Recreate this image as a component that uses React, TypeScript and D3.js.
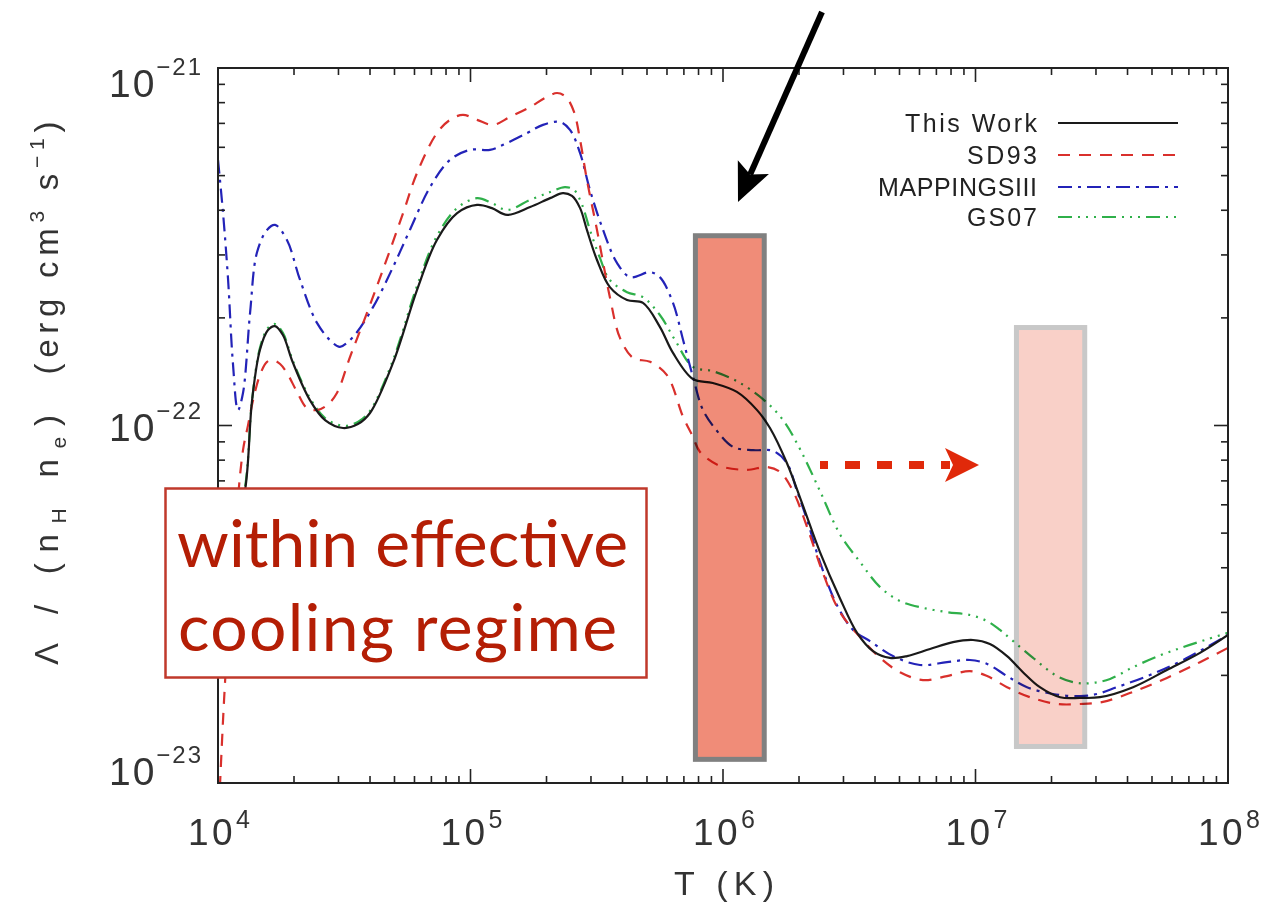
import React from 'react';
import * as d3 from 'd3';

// ---------------- data ----------------
const xDecades = [4, 5, 6, 7, 8];
const yDecades = [-21, -22, -23];
const legendLabels = ['This Work', 'SD93', 'MAPPINGSIII', 'GS07'];

const thisWorkLogT = [4.000,4.059,4.111,4.135,4.166,4.198,4.226,4.257,4.297,4.364,4.424,4.495,4.554,4.602,4.693,4.788,4.867,4.947,5.026,5.085,5.145,5.236,5.315,5.366,5.402,5.434,5.461,5.501,5.552,5.620,5.683,5.750,5.802,5.881,5.960,6.055,6.135,6.186,6.253,6.317,6.384,6.463,6.531,6.594,6.661,6.729,6.820,6.911,6.990,7.057,7.125,7.188,7.255,7.335,7.414,7.493,7.624,7.758,7.889,8.000];
const thisWorkLogL = [-22.656,-22.376,-22.161,-21.929,-21.789,-21.733,-21.722,-21.747,-21.825,-21.929,-21.985,-22.007,-21.996,-21.965,-21.825,-21.621,-21.481,-21.406,-21.383,-21.392,-21.411,-21.389,-21.364,-21.350,-21.358,-21.392,-21.453,-21.537,-21.613,-21.649,-21.657,-21.724,-21.797,-21.870,-21.881,-21.906,-21.957,-22.007,-22.105,-22.225,-22.354,-22.483,-22.580,-22.631,-22.650,-22.645,-22.625,-22.606,-22.600,-22.611,-22.645,-22.690,-22.732,-22.760,-22.762,-22.760,-22.732,-22.684,-22.636,-22.586];

const sd93LogT = [4.000,4.024,4.048,4.075,4.099,4.119,4.139,4.166,4.194,4.218,4.246,4.273,4.313,4.352,4.392,4.432,4.471,4.523,4.590,4.653,4.733,4.788,4.867,4.919,4.970,5.026,5.089,5.156,5.236,5.295,5.343,5.378,5.410,5.434,5.461,5.501,5.552,5.592,5.644,5.711,5.778,5.842,5.881,5.909,5.988,6.095,6.174,6.226,6.277,6.333,6.396,6.463,6.543,6.622,6.701,6.792,6.887,6.978,7.046,7.125,7.216,7.323,7.414,7.505,7.624,7.758,7.889,8.000];
const sd93LogL = [-23.131,-22.768,-22.488,-22.236,-22.069,-21.999,-21.929,-21.859,-21.822,-21.817,-21.828,-21.853,-21.906,-21.951,-21.957,-21.943,-21.909,-21.808,-21.685,-21.565,-21.406,-21.294,-21.182,-21.145,-21.131,-21.145,-21.159,-21.137,-21.109,-21.084,-21.070,-21.081,-21.123,-21.201,-21.313,-21.453,-21.641,-21.755,-21.811,-21.822,-21.859,-21.976,-22.032,-22.074,-22.113,-22.124,-22.116,-22.130,-22.183,-22.284,-22.413,-22.522,-22.592,-22.650,-22.690,-22.712,-22.701,-22.687,-22.701,-22.732,-22.760,-22.779,-22.779,-22.773,-22.745,-22.706,-22.662,-22.622];

const mappingsLogT = [4.000,4.020,4.040,4.059,4.079,4.099,4.127,4.154,4.194,4.226,4.273,4.325,4.392,4.455,4.483,4.535,4.614,4.693,4.760,4.840,4.919,4.998,5.077,5.129,5.224,5.287,5.354,5.394,5.434,5.473,5.525,5.580,5.632,5.711,5.750,5.802,5.842,5.881,5.921,5.976,6.040,6.119,6.198,6.253,6.293,6.333,6.384,6.451,6.515,6.582,6.673,6.780,6.887,6.978,7.046,7.125,7.204,7.307,7.414,7.481,7.560,7.691,7.822,8.000];
const mappingsLogL = [-21.257,-21.406,-21.593,-21.825,-21.957,-21.909,-21.685,-21.517,-21.453,-21.439,-21.481,-21.593,-21.713,-21.769,-21.780,-21.752,-21.669,-21.557,-21.453,-21.333,-21.257,-21.229,-21.229,-21.215,-21.182,-21.159,-21.151,-21.173,-21.238,-21.341,-21.453,-21.545,-21.585,-21.571,-21.585,-21.657,-21.761,-21.864,-21.957,-22.015,-22.060,-22.069,-22.071,-22.105,-22.183,-22.264,-22.382,-22.502,-22.572,-22.603,-22.645,-22.670,-22.662,-22.656,-22.667,-22.701,-22.732,-22.751,-22.757,-22.751,-22.732,-22.698,-22.656,-22.586];

const gs07LogT = [4.000,4.059,4.111,4.135,4.166,4.198,4.226,4.257,4.297,4.364,4.424,4.495,4.554,4.602,4.693,4.788,4.867,4.947,5.026,5.085,5.145,5.236,5.315,5.374,5.410,5.442,5.473,5.513,5.552,5.620,5.683,5.750,5.810,5.881,5.960,6.055,6.158,6.238,6.305,6.384,6.463,6.543,6.622,6.701,6.792,6.887,6.978,7.046,7.097,7.149,7.228,7.323,7.402,7.465,7.533,7.624,7.731,7.822,7.909,8.000];
const gs07LogL = [-22.656,-22.376,-22.152,-21.929,-21.783,-21.727,-21.716,-21.741,-21.820,-21.923,-21.979,-22.001,-21.990,-21.959,-21.817,-21.610,-21.470,-21.392,-21.364,-21.378,-21.397,-21.369,-21.347,-21.333,-21.341,-21.383,-21.453,-21.532,-21.593,-21.627,-21.641,-21.691,-21.761,-21.836,-21.848,-21.876,-21.926,-21.985,-22.066,-22.183,-22.304,-22.382,-22.452,-22.491,-22.510,-22.522,-22.530,-22.547,-22.572,-22.603,-22.650,-22.701,-22.720,-22.720,-22.709,-22.676,-22.643,-22.620,-22.600,-22.580];

// highlighted temperature bands (T range in K, Lambda range)
const bandT = [[7.6e5, 1.49e6], [1.42e7, 2.77e7]];
const bandL = [[1.146e-23, 3.45e-22], [1.245e-23, 1.91e-22]];

// ---------------- layout ----------------
const W = 1287, H = 905;
const X0 = 218, X1 = 1228, Y0 = 68, Y1 = 783;
const AXIS_FONT = "'Liberation Sans', Arial, sans-serif";
const TXT = '#333';

const series = [
  { name: 'GS07', t: gs07LogT, l: gs07LogL, color: '#2fb04a', dash: '14,6,2,6,2,6,2,6', li: 3 },
  { name: 'MAPPINGSIII', t: mappingsLogT, l: mappingsLogL, color: '#2323b8', dash: '14,6,3,6', li: 2 },
  { name: 'SD93', t: sd93LogT, l: sd93LogL, color: '#d9302c', dash: '12,9', li: 1 },
  { name: 'This Work', t: thisWorkLogT, l: thisWorkLogL, color: '#1a1a1a', dash: null, li: 0 },
];

function arrowHead(x1: number, y1: number, x2: number, y2: number, len: number, half: number, notch: number) {
  const dx = x2 - x1, dy = y2 - y1;
  const L = Math.hypot(dx, dy);
  const ux = dx / L, uy = dy / L;
  const px = -uy, py = ux;
  const bx = x2 - ux * len, by = y2 - uy * len;
  const nx = x2 - ux * (len - notch), ny = y2 - uy * (len - notch);
  return `M${x2},${y2} L${bx + px * half},${by + py * half} L${nx},${ny} L${bx - px * half},${by - py * half} Z`;
}

export default function App() {
  const x = d3.scaleLog().domain([1e4, 1e8]).range([X0, X1]);
  const y = d3.scaleLog().domain([1e-23, 1e-21]).range([Y1, Y0]);
  const line = d3
    .line<[number, number]>()
    .x((d) => x(Math.pow(10, d[0])))
    .y((d) => y(Math.pow(10, d[1])))
    .curve(d3.curveCatmullRom.alpha(0.5));

  const xMinor: number[] = [];
  for (let d = 4; d < 8; d++) for (let k = 2; k <= 9; k++) xMinor.push(Math.pow(10, d) * k);
  const yMinor: number[] = [];
  for (let d = -23; d < -21; d++) for (let k = 2; k <= 9; k++) yMinor.push(Math.pow(10, d) * k);

  const MAJ = 14, MIN = 7;
  const legendY = [123, 155, 187, 217];
  const legendLen = [132, 70, 159, 70];

  // black arrow
  const ba = { x1: 822, y1: 12, x2: 738, y2: 202 };
  const baDx = ba.x2 - ba.x1, baDy = ba.y2 - ba.y1, baL = Math.hypot(baDx, baDy);
  const baEndX = ba.x2 - (baDx / baL) * 30, baEndY = ba.y2 - (baDy / baL) * 30;

  return (
    <svg width={W} height={H} style={{ position: 'absolute', left: 0, top: 0, background: '#fff' }}>
      <defs>
        <clipPath id="plotClip">
          <rect x={X0} y={Y0} width={X1 - X0} height={Y1 - Y0} />
        </clipPath>
      </defs>
      <rect x={0} y={0} width={W} height={H} fill="#fff" />

      {/* curves */}
      <g clipPath="url(#plotClip)" fill="none">
        {series.map((s) => (
          <path
            key={s.name}
            d={line(s.t.map((t, i) => [t, s.l[i]] as [number, number])) || ''}
            stroke={s.color}
            strokeWidth={2.2}
            strokeDasharray={s.dash || undefined}
            strokeLinejoin="round"
          />
        ))}
      </g>

      {/* frame */}
      <rect x={X0} y={Y0} width={X1 - X0} height={Y1 - Y0} fill="none" stroke="#222" strokeWidth={2} />

      {/* ticks */}
      <g stroke="#222" strokeWidth={1.6}>
        {xDecades.map((d) => {
          const xx = x(Math.pow(10, d));
          return (
            <g key={'xM' + d}>
              <line x1={xx} x2={xx} y1={Y1} y2={Y1 - MAJ} />
              <line x1={xx} x2={xx} y1={Y0} y2={Y0 + MAJ} />
            </g>
          );
        })}
        {xMinor.map((v, i) => {
          const xx = x(v);
          return (
            <g key={'xm' + i}>
              <line x1={xx} x2={xx} y1={Y1} y2={Y1 - MIN} />
              <line x1={xx} x2={xx} y1={Y0} y2={Y0 + MIN} />
            </g>
          );
        })}
        {yDecades.map((d) => {
          const yy = y(Math.pow(10, d));
          return (
            <g key={'yM' + d}>
              <line x1={X0} x2={X0 + MAJ} y1={yy} y2={yy} />
              <line x1={X1} x2={X1 - MAJ} y1={yy} y2={yy} />
            </g>
          );
        })}
        {yMinor.map((v, i) => {
          const yy = y(v);
          return (
            <g key={'ym' + i}>
              <line x1={X0} x2={X0 + MIN} y1={yy} y2={yy} />
              <line x1={X1} x2={X1 - MIN} y1={yy} y2={yy} />
            </g>
          );
        })}
      </g>

      {/* tick labels and titles */}
      <g fontFamily={AXIS_FONT} fill={TXT}>
        {xDecades.map((d) => (
          <text key={'xl' + d} x={x(Math.pow(10, d)) + 1} y={845} fontSize={37} textAnchor="middle" textLength={62} lengthAdjust="spacing">
            10<tspan fontSize={25} dy={-17}>{d}</tspan>
          </text>
        ))}
        {yDecades.map((d, i) => {
          const yy = y(Math.pow(10, d));
          const shift = i === 0 ? 14 : i === yDecades.length - 1 ? -13 : 0;
          return (
            <text key={'yl' + d} x={201} y={yy + 15 + shift} fontSize={39} textAnchor="end" textLength={92} lengthAdjust="spacing">
              10<tspan fontSize={24} dy={-22}>{'\u2212' + Math.abs(d)}</tspan>
            </text>
          );
        })}
        <text x={724} y={895} fontSize={34} textAnchor="middle" textLength={100} lengthAdjust="spacing">T (K)</text>
        {/* y axis title */}
        <text transform="translate(58,540) rotate(-90)" fontSize={33} textAnchor="middle" textLength={250} lengthAdjust="spacing">
          {'\u039B / (n'}<tspan fontSize={21} dy={8}>H</tspan><tspan dy={-8}>{' n'}</tspan><tspan fontSize={21} dy={8}>e</tspan><tspan dy={-8}>)</tspan>
        </text>
        <text transform="translate(58,248) rotate(-90)" fontSize={33} textAnchor="middle" textLength={253} lengthAdjust="spacing">
          {'(erg cm'}<tspan fontSize={21} dy={-14}>3</tspan><tspan dy={14}>{' s'}</tspan><tspan fontSize={21} dy={-14}>{'\u22121'}</tspan><tspan dy={14}>)</tspan>
        </text>
      </g>

      {/* legend */}
      <g fontFamily={AXIS_FONT} fill="#222">
        {legendLabels.map((lab, i) => {
          const s = series.find((q) => q.li === i)!;
          return (
            <g key={lab}>
              <text x={1037} y={legendY[i] + 9} fontSize={25} textAnchor="end" textLength={legendLen[i]} lengthAdjust="spacing">
                {lab}
              </text>
              <line x1={1058} x2={1178} y1={legendY[i]} y2={legendY[i]} stroke={s.color} strokeWidth={2.2} strokeDasharray={s.dash || undefined} />
            </g>
          );
        })}
      </g>

      {/* highlighted bands (multiply so the curves show through) */}
      {bandT.map((bt, i) => {
        const sw = 5;
        const xa = x(bt[0]) + sw / 2, xb = x(bt[1]) - sw / 2;
        const ya = y(bandL[i][1]) + sw / 2, yb = y(bandL[i][0]) - sw / 2;
        return (
          <rect
            key={'band' + i}
            x={xa}
            y={ya}
            width={xb - xa}
            height={yb - ya}
            fill={i === 0 ? '#f08c78' : '#f9d0c8'}
            stroke={i === 0 ? '#808080' : '#c8c8c8'}
            strokeWidth={sw}
            style={{ mixBlendMode: 'multiply' }}
          />
        );
      })}

      {/* annotation box */}
      <rect x={165.5} y={488.5} width={481} height={189} fill="#fff" stroke="#c0392b" strokeWidth={2.5} />
      <g fontFamily="Lato, 'Open Sans', sans-serif" fill="#b41e05" fontSize={66}>
        <text x={177} y={567} textLength={451} lengthAdjust="spacing">within effective</text>
        <text x={178} y={651} textLength={439} lengthAdjust="spacing">cooling regime</text>
      </g>

      {/* red dashed arrow */}
      <line x1={820} x2={950} y1={465} y2={465} stroke="#e0290a" strokeWidth={8} strokeDasharray="8,17,15,17,15,17,15,17,15" />
      <path d={arrowHead(820, 465, 979, 465, 34, 17, 8)} fill="#e0290a" />

      {/* black arrow */}
      <line x1={ba.x1} y1={ba.y1} x2={baEndX} y2={baEndY} stroke="#000" strokeWidth={6} />
      <path d={arrowHead(ba.x1, ba.y1, ba.x2, ba.y2, 38, 17, 8)} fill="#000" />
    </svg>
  );
}
